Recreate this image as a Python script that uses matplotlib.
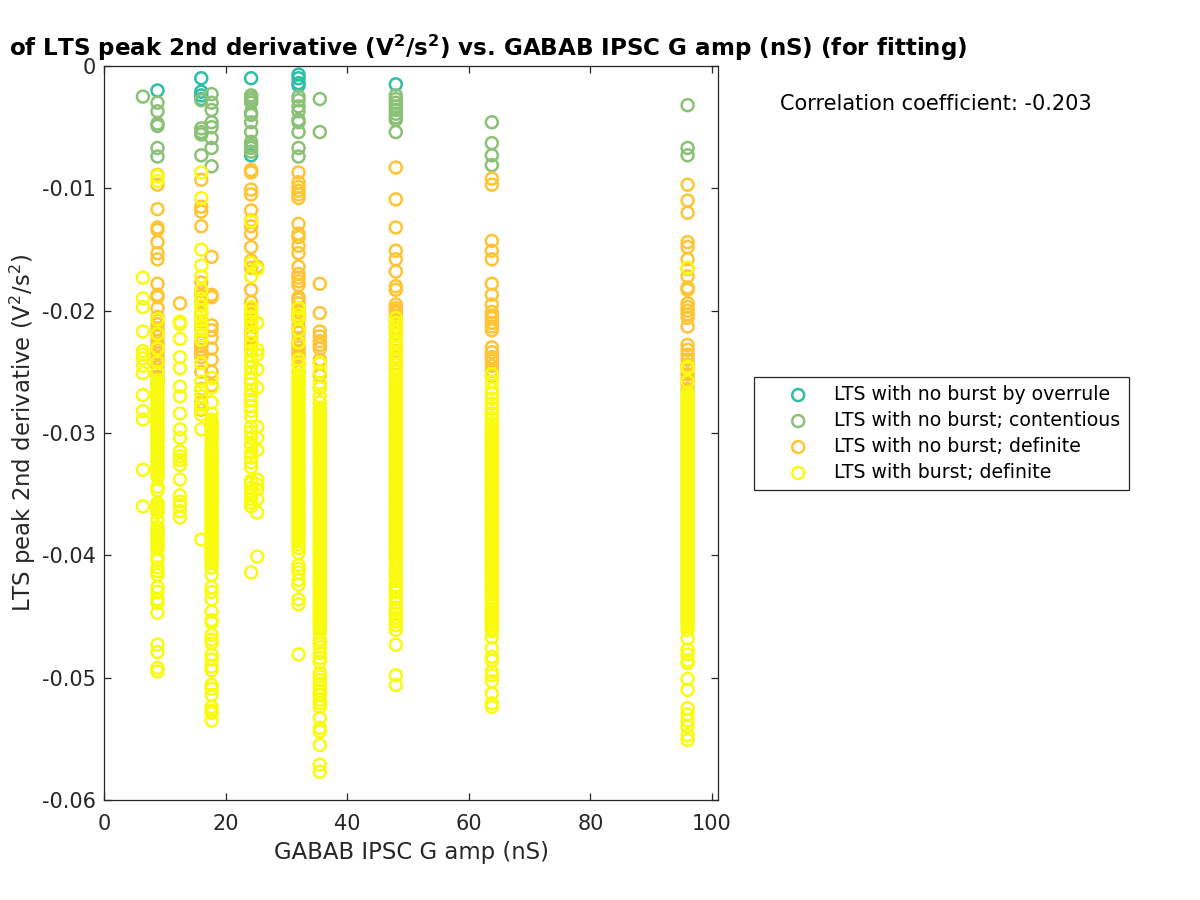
import numpy as np
import matplotlib
matplotlib.use("Agg")
import matplotlib.pyplot as plt

# GABAB IPSC G amp (nS) of each stimulus column
amp_a = 6.4
amp_b = 8.8
amp_c = 12.5
amp_d = 16.0
amp_e = 17.7
amp_f = 24.2
amp_g = 25.2
amp_h = 32.0
amp_i = 35.5
amp_j = 48.0
amp_k = 63.8
amp_l = 96.0

overrule_b = [2.0]
overrule_d = [1.0, 2.1, 2.4, 2.7]
overrule_f = [1.0, 7.3]
overrule_h = [0.7, 1.0, 1.4, 1.6]
overrule_j = [1.5]

contentious_a = [2.5]
contentious_b = [3.0, 3.7, 4.7, 4.9, 6.7, 7.4]
contentious_d = [2.8, 5.1, 5.4, 5.6, 7.3]
contentious_e = [2.3, 3.0, 3.6, 4.6, 5.0, 5.9, 6.7, 8.2]
contentious_f = [2.4, 2.6, 2.8, 3.0, 3.8, 4.0, 4.6, 5.4, 6.2, 6.5, 6.7, 7.0]
contentious_h = [2.5, 2.8, 3.3, 3.7, 4.4, 4.6, 5.4, 6.7, 7.4]
contentious_i = [2.7, 5.4]
contentious_j = [2.4, 2.7, 3.0, 3.3, 3.6, 3.9, 4.2, 4.4, 5.4]
contentious_k = [4.6, 6.3, 7.3, 8.1]
contentious_l = [3.2, 6.7, 7.3]

definite_b = [8.9, 9.7, 11.7, 13.2, 13.4, 14.4, 15.3, 15.8, 17.8, 18.7, 18.9, 19.8, 20.5, 20.8,
              21.1, 21.5, 21.8, 22.1, 22.5, 22.8, 23.2, 23.5, 23.9, 24.2, 24.6, 25.0, 25.4, 25.8]
definite_c = [19.4]
definite_d = [9.3, 11.5, 11.9, 13.1, 17.7, 18.4, 18.8, 19.2, 20.3, 20.9, 21.5, 22.6, 22.9, 23.2, 23.5,
              23.8, 25.0, 26.4, 27.5, 28.1]
definite_e = [15.6, 18.7, 18.9, 21.2, 21.6, 22.2, 23.1, 24.0, 25.0, 26.1]
definite_f = [8.5, 8.7, 10.1, 10.5, 11.8, 12.6, 13.1, 13.7, 14.8, 15.9, 16.5, 18.3, 19.3, 19.9, 20.3, 20.7,
              21.2, 21.8, 22.2, 22.7, 23.2]
definite_g = [16.4]
definite_h = [8.7, 9.5, 9.9, 10.2, 10.5, 10.8, 12.9, 13.7, 14.0, 14.7, 15.3, 16.4, 17.0, 17.3, 17.6, 17.9,
              18.9, 19.1, 19.4, 19.8, 20.1, 20.4, 20.8, 21.3, 21.6, 21.8, 22.4, 22.7, 23.0, 23.3, 23.6,
              23.8, 24.4, 25.0]
definite_i = [17.8, 20.2, 21.7, 22.1, 22.5, 22.8, 23.1, 24.0, 24.3, 25.3, 26.3]
definite_j = [8.3, 10.9, 13.2, 15.1, 15.8, 16.8, 18.0, 18.3, 19.5, 19.8, 20.0, 20.2, 20.5, 20.9, 21.4, 21.9,
              22.4, 22.8, 23.3, 23.8, 24.3, 24.8]
definite_k = [9.2, 9.7, 14.3, 15.1, 15.8, 17.8, 18.7, 19.5, 20.1, 20.4, 20.6, 21.0, 21.3, 21.6, 23.0, 23.4,
              23.8, 24.1, 24.5, 24.9, 25.3]
definite_l = [9.7, 11.0, 12.0, 14.4, 14.8, 15.8, 16.6, 17.2, 18.1, 18.3, 19.4, 19.7, 20.0, 20.3, 20.6, 21.3,
              22.8, 23.2, 23.6, 24.0, 24.4, 24.8, 25.2, 25.6, 26.0, 26.4, 26.7]

burst_a = [17.3, 19.0, 19.7, 21.7, 23.3, 23.6, 23.9, 24.5, 25.1, 26.9, 28.2, 28.9, 33.0, 36.0]
burst_b = [9.0, 9.4, 20.7, 21.9, 23.1, 24.2, 25.0,
           25.7, 25.9, 26.1, 26.3, 26.5, 26.7, 26.9, 27.1, 27.3, 27.5, 27.7, 27.9, 28.1, 28.3, 28.5, 28.7,
           28.9, 29.1, 29.3, 29.5, 29.7, 29.9, 30.1, 30.3, 30.5, 30.7, 30.9, 31.1, 31.3, 31.5, 31.7, 31.9,
           32.1, 32.3, 32.5, 32.7, 32.9, 33.1, 33.3, 33.6, 34.4, 34.7, 35.7, 35.9, 36.1, 36.3, 36.5, 37.1,
           37.7, 37.9, 38.1, 38.3, 38.5, 38.7, 38.9, 39.1, 39.3, 39.5, 40.1, 40.4, 41.0, 41.3, 41.6, 42.6,
           43.0, 43.6, 43.9, 44.7, 47.3, 47.9, 49.2, 49.5]
burst_c = [20.9, 21.1, 22.3, 23.8, 24.7, 26.2, 27.0, 28.4, 29.7, 30.4, 31.5, 31.9, 32.2, 32.6, 33.8, 35.1,
           35.6, 35.9, 36.4, 36.9]
burst_d = [8.7, 10.8, 15.0, 16.3, 17.2, 18.3, 19.0, 19.6, 20.0, 20.4, 20.8, 21.2, 21.6, 22.0, 22.4,
           24.3, 25.8, 26.5, 27.0, 27.7, 28.0, 28.5, 29.7, 38.7]
burst_e = [25.5, 26.3, 27.5, 28.4, 28.9, 29.1, 29.3, 29.5, 29.7, 29.9, 30.1, 30.3, 30.5, 30.8, 31.2, 31.4, 31.6,
           31.8, 32.0, 32.2, 32.4, 32.6, 32.8, 33.0, 33.2, 33.4, 33.6, 33.8, 34.0, 34.2, 34.4, 34.6, 34.8,
           35.0, 35.2, 35.4, 35.6, 35.8, 36.0, 36.2, 36.4, 36.6, 36.8, 37.0, 37.2, 37.4, 37.6, 37.8, 38.0,
           38.2, 38.4, 38.6, 38.8, 39.0, 39.2, 39.4, 39.6, 39.8, 40.0, 40.2, 40.4, 40.6, 41.0, 41.6, 42.6,
           43.0, 43.6, 44.6, 45.3, 45.5, 46.5, 46.9, 47.2, 48.1, 48.5, 49.1, 49.4, 50.6, 50.9, 51.4, 52.4,
           52.7, 52.9, 53.5]
burst_f = [12.7, 16.1, 17.2, 19.7, 20.1, 20.5, 20.9, 21.3, 22.0, 22.6, 23.3, 23.7, 24.1, 24.6, 25.1, 25.6, 26.0,
           26.5, 26.9, 27.3, 27.8, 28.2, 28.7, 29.5, 29.9, 30.4, 30.9, 31.1, 31.6, 32.0, 32.4, 32.8, 33.9, 34.1,
           34.5, 34.8, 35.1, 35.4, 35.7, 36.0, 41.4]
burst_g = [16.6, 21.0, 23.2, 23.6, 24.8, 26.3, 29.5, 30.4, 31.4, 33.8, 34.2, 34.6, 35.4, 36.5, 40.1]
burst_h = [19.8, 20.3, 20.6, 21.6, 22.6, 24.0, 24.4, 24.9, 25.3, 25.5, 25.7, 25.9, 26.1, 26.3, 26.5,
           26.7, 26.9, 27.1, 27.3, 27.5, 27.8, 28.1, 28.3, 28.5, 28.7, 28.9, 29.1, 29.3, 29.5, 29.7, 29.9, 30.1,
           30.3, 30.6, 30.8, 31.0, 31.2, 31.4, 31.6, 31.8, 32.0, 32.2, 32.5, 32.7, 32.9, 33.1, 33.3, 33.5, 33.8,
           34.0, 34.2, 34.4, 34.6, 34.8, 35.0, 35.2, 35.4, 35.6, 35.8, 36.0, 36.2, 36.4, 36.6, 36.8, 37.0, 37.2,
           37.4, 37.6, 37.8, 38.0, 38.2, 38.4, 38.6, 38.8, 39.1, 39.4, 39.8, 40.8, 41.1, 41.4, 42.0, 42.4, 43.6,
           44.0, 48.1]
burst_i = [24.3, 25.0, 25.9, 26.3, 27.0, 27.5, 28.0, 28.2, 28.4, 28.6, 28.8, 29.0, 29.2, 29.4, 29.6, 29.8, 30.0,
           30.2, 30.4, 30.6, 30.8, 31.0, 31.2, 31.4, 31.6, 31.8, 32.0, 32.2, 32.4, 32.6, 32.8, 33.0, 33.2, 33.4,
           33.6, 33.8, 34.0, 34.2, 34.4, 34.6, 34.8, 35.0, 35.2, 35.4, 35.6, 35.8, 36.0, 36.2, 36.4, 36.6, 36.8,
           37.0, 37.2, 37.4, 37.6, 37.8, 38.0, 38.2, 38.4, 38.6, 38.8, 39.0, 39.2, 39.4, 39.6, 39.8, 40.0, 40.2,
           40.4, 40.6, 40.8, 41.0, 41.2, 41.4, 41.6, 41.8, 42.0, 42.2, 42.4, 42.6, 42.8, 43.0, 43.2, 43.4, 43.6,
           43.8, 44.0, 44.2, 44.4, 44.6, 44.8, 45.0, 45.2, 45.4, 45.6, 45.8, 46.0, 46.3, 46.9, 47.2, 47.5, 48.0,
           48.4, 48.7, 49.6, 49.9, 50.2, 50.5, 50.8, 51.1, 51.4, 51.8, 52.1, 52.4, 53.3, 54.1, 54.4, 55.5, 57.1,
           57.7]
burst_j = [20.6, 21.0, 21.3, 21.7, 22.0, 22.4, 22.7, 23.0, 23.4, 23.7, 24.0, 24.4, 24.7, 25.0, 25.3, 25.6, 25.8,
           26.0, 26.2, 26.4, 26.6, 26.8, 27.0, 27.2, 27.4, 27.6, 27.8, 28.0, 28.2, 28.4, 28.6, 28.8, 29.0, 29.2,
           29.4, 29.6, 29.8, 30.0, 30.2, 30.4, 30.6, 30.8, 31.0, 31.2, 31.4, 31.6, 31.8, 32.0, 32.2, 32.4, 32.6,
           32.8, 33.0, 33.2, 33.4, 33.6, 33.8, 34.0, 34.2, 34.4, 34.6, 34.8, 35.0, 35.2, 35.4, 35.6, 35.8, 36.0,
           36.2, 36.4, 36.6, 36.8, 37.0, 37.2, 37.4, 37.6, 37.8, 38.0, 38.2, 38.4, 38.6, 38.8, 39.0, 39.2, 39.4,
           39.6, 39.8, 40.1, 40.3, 40.7, 40.9, 41.3, 41.5, 41.9, 42.1, 42.5, 42.7, 43.0, 43.4, 43.6, 43.9, 44.3,
           44.5, 44.8, 45.1, 45.4, 45.7, 46.1, 47.3, 49.8, 50.6]
burst_k = [25.2, 25.8, 26.4, 26.8, 27.2, 27.6, 28.0, 28.4, 28.8, 29.2, 29.5, 29.7, 29.9, 30.1, 30.3, 30.5, 30.7,
           30.9, 31.1, 31.3, 31.5, 31.7, 31.9, 32.1, 32.3, 32.5, 32.7, 32.9, 33.1, 33.3, 33.5, 33.7, 33.9, 34.1,
           34.3, 34.5, 34.7, 34.9, 35.1, 35.3, 35.5, 35.7, 35.9, 36.1, 36.3, 36.5, 36.7, 36.9, 37.1, 37.3, 37.5,
           37.7, 37.9, 38.1, 38.3, 38.5, 38.7, 38.9, 39.1, 39.3, 39.5, 39.7, 39.9, 40.1, 40.3, 40.5, 40.7, 40.9,
           41.1, 41.3, 41.5, 41.7, 41.9, 42.1, 42.4, 42.6, 42.8, 43.0, 43.2, 43.5, 43.7, 43.9, 44.1, 44.4, 44.6,
           44.8, 45.0, 45.2, 45.4, 45.6, 45.8, 46.0, 46.2, 46.7, 47.6, 48.3, 48.6, 49.5, 49.8, 50.3, 51.3, 52.1,
           52.4]
burst_l = [16.5, 24.6, 24.7, 25.8, 26.7, 27.0, 27.2, 27.4, 27.6, 27.8, 28.0, 28.2, 28.4, 28.6, 28.8, 29.0, 29.2,
           29.4, 29.6, 29.8, 30.0, 30.2, 30.4, 30.6, 30.8, 31.0, 31.2, 31.4, 31.6, 31.8, 32.0, 32.2, 32.4, 32.6,
           32.8, 33.0, 33.2, 33.4, 33.6, 33.8, 34.0, 34.2, 34.4, 34.6, 34.8, 35.0, 35.2, 35.4, 35.6, 35.8, 36.0,
           36.2, 36.4, 36.6, 36.8, 37.0, 37.2, 37.4, 37.6, 37.8, 38.0, 38.2, 38.4, 38.6, 38.8, 39.0, 39.2, 39.4,
           39.6, 39.8, 40.0, 40.2, 40.4, 40.6, 40.8, 41.0, 41.2, 41.4, 41.6, 41.8, 42.0, 42.2, 42.4, 42.6, 42.8,
           43.0, 43.2, 43.4, 43.6, 43.8, 44.0, 44.2, 44.4, 44.6, 44.8, 45.0, 45.2, 45.4, 45.6, 45.8, 46.1, 46.8,
           47.7, 48.1, 48.6, 48.8, 50.1, 51.0, 52.5, 53.0, 53.5, 54.0, 54.7, 55.1]

overrule = [(amp_b, overrule_b), (amp_d, overrule_d), (amp_f, overrule_f), (amp_h, overrule_h), (amp_j, overrule_j)]
contentious = [(amp_a, contentious_a), (amp_b, contentious_b), (amp_d, contentious_d), (amp_e, contentious_e),
               (amp_f, contentious_f), (amp_h, contentious_h), (amp_i, contentious_i), (amp_j, contentious_j),
               (amp_k, contentious_k), (amp_l, contentious_l)]
definite = [(amp_b, definite_b), (amp_c, definite_c), (amp_d, definite_d), (amp_e, definite_e), (amp_f, definite_f),
            (amp_g, definite_g), (amp_h, definite_h), (amp_i, definite_i), (amp_j, definite_j), (amp_k, definite_k),
            (amp_l, definite_l)]
burst = [(amp_a, burst_a), (amp_b, burst_b), (amp_c, burst_c), (amp_d, burst_d), (amp_e, burst_e), (amp_f, burst_f),
         (amp_g, burst_g), (amp_h, burst_h), (amp_i, burst_i), (amp_j, burst_j), (amp_k, burst_k), (amp_l, burst_l)]

series = [("LTS with no burst by overrule", overrule, "#2EBEA6"),
          ("LTS with no burst; contentious", contentious, "#8BC177"),
          ("LTS with no burst; definite", definite, "#FEC433"),
          ("LTS with burst; definite", burst, "#F9FB0E")]

DARK = "#262626"
plt.rcParams["mathtext.default"] = "regular"

fig = plt.figure(figsize=(12, 9), dpi=100)
ax = fig.add_axes([104 / 1200, 1 - 800 / 900, 614 / 1200, 734 / 900])

for label, columns, color in series:
    x = np.concatenate([np.full(len(vals), amp) for amp, vals in columns])
    y = np.concatenate([vals for amp, vals in columns]) * -1e-3
    ax.scatter(x, y, s=74, facecolors="none", edgecolors=color, linewidths=1.8, label=label)

ax.set_xlim(0, 101)
ax.set_ylim(-0.06, 0)
ax.set_xticks([0, 20, 40, 60, 80, 100])
ax.set_yticks([-0.06, -0.05, -0.04, -0.03, -0.02, -0.01, 0])
ax.set_yticklabels(["-0.06", "-0.05", "-0.04", "-0.03", "-0.02", "-0.01", "0"])
ax.tick_params(direction="in", length=5.3, width=0.9, top=True, right=True, labelsize=15, colors=DARK, pad=6)
ax.tick_params(axis="x", pad=10)
for s in ax.spines.values():
    s.set_color(DARK)
    s.set_linewidth(0.9)
ax.set_xlabel("GABAB IPSC G amp (nS)", fontsize=16.4, color=DARK, labelpad=5)
ax.set_ylabel("LTS peak 2nd derivative (V$^2$/s$^2$)", fontsize=16.4, color=DARK, labelpad=2.5)

fig.text(9 / 1200, 1 - 44 / 900,
         r"of LTS peak 2nd derivative (V$\mathbf{^2}$/s$\mathbf{^2}$) vs. GABAB IPSC G amp (nS) (for fitting)",
         fontsize=16.6, fontweight="bold", color="black", va="center_baseline")
fig.text(780 / 1200, 1 - 104 / 900, "Correlation coefficient: -0.203", fontsize=15, color="black", va="center")

leg = fig.legend(loc="center left", bbox_to_anchor=(754 / 1200, 1 - 433.5 / 900), borderaxespad=0, fancybox=False,
                 framealpha=1, edgecolor=DARK, fontsize=13.6, labelspacing=0.37, handletextpad=0.0, borderpad=0.42,
                 handlelength=3.84)
leg.get_frame().set_linewidth(0.9)

fig.savefig("out.png", dpi=100)
